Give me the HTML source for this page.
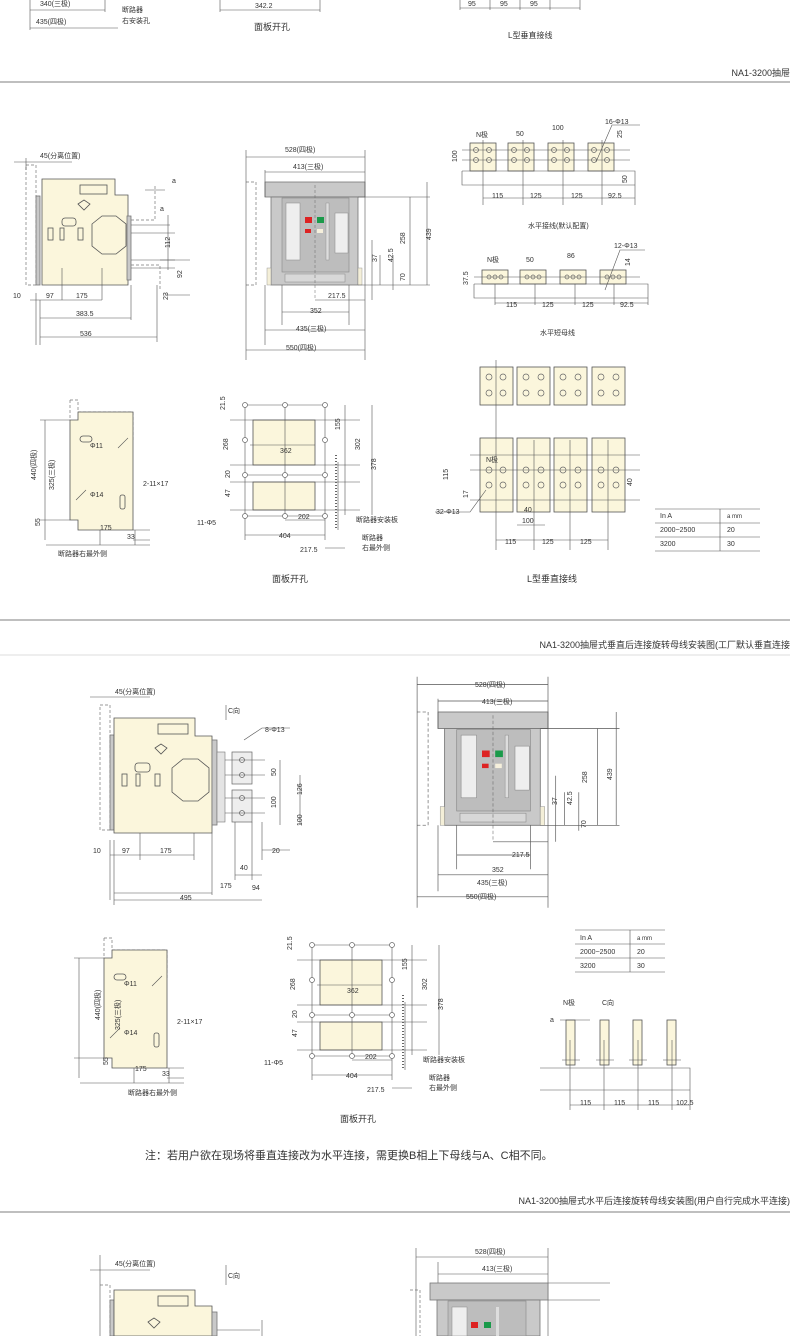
<!DOCTYPE html>
<html><head><meta charset="utf-8"><style>
html,body{margin:0;padding:0;background:#fff}
svg{display:block}
text{font-family:"Liberation Sans","Noto Sans CJK SC",sans-serif;fill:#333}
.d{stroke:#555;stroke-width:.6;fill:none}
.k{stroke:#444;stroke-width:.8;fill:none}
.b{fill:#fbf6dc;stroke:#555;stroke-width:.8}
.g{fill:#c9c9c9;stroke:#777;stroke-width:.8}
.s{font-size:7px}
.m{font-size:8px}
.t{font-size:9px}
.dash{stroke:#777;stroke-width:.7;fill:none;stroke-dasharray:3 2}
</style></head><body>
<svg width="790" height="1336" viewBox="0 0 790 1336" xmlns="http://www.w3.org/2000/svg">
<!-- top partial -->
<text x="40" y="6" class="s">340(三极)</text>
<text x="36" y="24" class="s">435(四极)</text>
<path class="d" d="M30 10H105M30 28H118M30 0V30M105 0V12"/>
<text x="122" y="12" class="s">断路器</text><text x="122" y="23" class="s">右安装孔</text>
<text x="255" y="8" class="s">342.2</text><path class="d" d="M220 10H320M220 0V12M320 0V12"/>
<text x="254" y="30" class="t">面板开孔</text>
<path class="d" d="M460 8H580M460 0V10M490 0V10M520 0V10M550 0V10M580 0V10"/>
<text x="468" y="6" class="s">95</text><text x="500" y="6" class="s">95</text><text x="530" y="6" class="s">95</text>
<text x="508" y="38" class="m">L型垂直接线</text>
<line x1="0" y1="82" x2="790" y2="82" stroke="#999" stroke-width="1.2"/>
<text x="790" y="76" class="t" text-anchor="end">NA1-3200抽屉</text>

<!-- SECTION 1 side view -->
<g id="side1">
<path class="dash" d="M26 165H36V285H26Z"/>
<rect x="36" y="196" width="4" height="89" class="g"/>
<path class="b" d="M42 179H115V195H128V285H42Z"/>
<rect x="80" y="185" width="27" height="9" class="b"/>
<path class="b" d="M78 204l6 -4l6 4l-6 6z"/>
<rect x="62" y="218" width="14" height="8" rx="3" class="b"/>
<rect x="48" y="228" width="5" height="12" class="b"/><rect x="60" y="228" width="4" height="12" class="b"/><rect x="78" y="228" width="5" height="12" class="b"/><rect x="98" y="228" width="5" height="12" class="b"/>
<path class="b" d="M92 224l10-8h14l10 8v22l-10 8h-14l-10-8z"/>
<rect x="127" y="216" width="4" height="64" class="g"/>
<path class="d" d="M131 225H170M131 260H175M131 233H175M131 268H175"/>
<path class="dash" d="M131 220H155V185M131 265H160V290"/>
<path class="d" d="M36 293V345M40 300V345M62 268V300M102 268V300M131 285V320M157 285V342M30 300H40M40 300H62M62 300H102M40 318H131M40 337H157M145 190H165M168 215V270M160 260H190M165 295H190"/>
</g>
<text x="40" y="158" class="s">45(分离位置)</text>
<path class="d" d="M14 162H72M26 158V170"/>
<text x="172" y="183" class="s">a</text><text x="160" y="211" class="s">a</text>
<text x="170" y="248" class="s" transform="rotate(-90 170 248)">112</text>
<text x="182" y="278" class="s" transform="rotate(-90 182 278)">92</text>
<text x="168" y="300" class="s" transform="rotate(-90 168 300)">23</text>
<text x="13" y="298" class="s">10</text><text x="46" y="298" class="s">97</text><text x="76" y="298" class="s">175</text>
<text x="76" y="316" class="s">383.5</text><text x="80" y="336" class="s">536</text>

<!-- SECTION 1 front view -->
<g id="front1">
<rect x="265" y="182" width="100" height="15" class="g"/>
<rect x="271" y="197" width="87" height="88" class="g"/>
<rect x="282" y="198" width="67" height="74" fill="#bdbdbd" stroke="#888" stroke-width=".6"/>
<rect x="286" y="203" width="14" height="57" fill="#eee" stroke="#888" stroke-width=".5"/>
<rect x="335" y="213" width="13" height="40" fill="#eee" stroke="#888" stroke-width=".5"/>
<rect x="326" y="203" width="3" height="57" fill="#ddd" stroke="#888" stroke-width=".4"/>
<rect x="305" y="217" width="7" height="6" fill="#d22"/><rect x="317" y="217" width="7" height="6" fill="#1a9a4a"/>
<rect x="305" y="229" width="6" height="4" fill="#d22"/><rect x="317" y="229" width="6" height="4" fill="#f6f0dc"/>
<rect x="285" y="274" width="60" height="8" fill="#d8d8d8" stroke="#888" stroke-width=".5"/>
<rect x="267" y="268" width="4" height="17" fill="#f4efd8" stroke="#888" stroke-width=".4"/>
<rect x="358" y="268" width="4" height="17" fill="#f4efd8" stroke="#888" stroke-width=".4"/>
<path class="dash" d="M246 182H256V285H246"/>
<line x1="315" y1="185" x2="315" y2="300" stroke="#666" stroke-width=".5" stroke-dasharray="3 2"/>
<path class="d" d="M246 150V360M365 150V360M265 170V197M265 285V345M282 285V325M349 285V325M246 157H365M265 172H365M358 197H430M358 285H430M365 197H410M410 197V285M427 182V285M380 255V285M393 255V290M315 300H365M282 312H349M265 330H365M246 350H365M372 240V300"/>
</g>
<text x="285" y="152" class="s">528(四极)</text><text x="293" y="169" class="s">413(三极)</text>
<text x="405" y="244" class="s" transform="rotate(-90 405 244)">258</text>
<text x="431" y="240" class="s" transform="rotate(-90 431 240)">439</text>
<text x="377" y="262" class="s" transform="rotate(-90 377 262)">37</text>
<text x="393" y="262" class="s" transform="rotate(-90 393 262)">42.5</text>
<text x="405" y="281" class="s" transform="rotate(-90 405 281)">70</text>
<text x="328" y="298" class="s">217.5</text><text x="310" y="313" class="s">352</text>
<text x="296" y="331" class="s">435(三极)</text><text x="286" y="350" class="s">550(四极)</text>

<!-- SECTION 1 horizontal busbars -->
<g id="hbus">
<rect x="470" y="143" width="26" height="28" class="b"/><rect x="508" y="143" width="26" height="28" class="b"/><rect x="548" y="143" width="26" height="28" class="b"/><rect x="588" y="143" width="26" height="28" class="b"/>
<path class="d" d="M462 150H630M462 160H630M462 171H635V185H462V171M483 140V205M523 140V205M563 140V205M602 140V205M635 185V205M483 198H635"/>
<g fill="none" stroke="#666" stroke-width=".7">
<circle cx="476" cy="150" r="2.5"/><circle cx="489" cy="150" r="2.5"/><circle cx="476" cy="160" r="2.5"/><circle cx="489" cy="160" r="2.5"/>
<circle cx="514" cy="150" r="2.5"/><circle cx="527" cy="150" r="2.5"/><circle cx="514" cy="160" r="2.5"/><circle cx="527" cy="160" r="2.5"/>
<circle cx="554" cy="150" r="2.5"/><circle cx="567" cy="150" r="2.5"/><circle cx="554" cy="160" r="2.5"/><circle cx="567" cy="160" r="2.5"/>
<circle cx="594" cy="150" r="2.5"/><circle cx="607" cy="150" r="2.5"/><circle cx="594" cy="160" r="2.5"/><circle cx="607" cy="160" r="2.5"/></g>
<path class="d" d="M596 162L612 125H640"/>
</g>
<text x="476" y="137" class="s">N极</text><text x="516" y="136" class="s">50</text><text x="552" y="130" class="s">100</text><text x="605" y="124" class="s">16-Φ13</text>
<text x="457" y="162" class="s" transform="rotate(-90 457 162)">100</text>
<text x="622" y="138" class="s" transform="rotate(-90 622 138)">25</text>
<text x="627" y="183" class="s" transform="rotate(-90 627 183)">50</text>
<text x="492" y="198" class="s">115</text><text x="530" y="198" class="s">125</text><text x="571" y="198" class="s">125</text><text x="608" y="198" class="s">92.5</text>
<text x="528" y="228" class="s">水平接线(默认配置)</text>

<g>
<rect x="482" y="270" width="26" height="14" class="b"/><rect x="520" y="270" width="26" height="14" class="b"/><rect x="560" y="270" width="26" height="14" class="b"/><rect x="600" y="270" width="26" height="14" class="b"/>
<path class="d" d="M474 277H640M474 284H648V298H474V284M495 284V305M535 284V305M575 284V305M614 284V305M648 298V305M495 303H648"/>
<g fill="none" stroke="#666" stroke-width=".7"><circle cx="489" cy="277" r="2"/><circle cx="495" cy="277" r="2"/><circle cx="501" cy="277" r="2"/><circle cx="527" cy="277" r="2"/><circle cx="533" cy="277" r="2"/><circle cx="539" cy="277" r="2"/><circle cx="567" cy="277" r="2"/><circle cx="573" cy="277" r="2"/><circle cx="579" cy="277" r="2"/><circle cx="607" cy="277" r="2"/><circle cx="613" cy="277" r="2"/><circle cx="619" cy="277" r="2"/></g>
<path class="d" d="M605 290L620 250H645"/>
</g>
<text x="487" y="262" class="s">N极</text><text x="526" y="262" class="s">50</text><text x="567" y="258" class="s">86</text><text x="614" y="248" class="s">12-Φ13</text>
<text x="468" y="285" class="s" transform="rotate(-90 468 285)">37.5</text>
<text x="630" y="266" class="s" transform="rotate(-90 630 266)">14</text>
<text x="506" y="307" class="s">115</text><text x="542" y="307" class="s">125</text><text x="582" y="307" class="s">125</text><text x="620" y="307" class="s">92.5</text>
<text x="540" y="335" class="s">水平短母线</text>

<!-- SECTION 1 small side -->
<g id="sm1">
<path class="dash" d="M70 400H78V412H133V440M70 400V420"/>
<path class="b" d="M70 420H78V412H133V530H78V520H70Z" style="fill:#fbf6dc"/>
<rect x="80" y="436" width="12" height="6" rx="3" class="b"/>
<rect x="120" y="495" width="5" height="14" rx="2" class="b"/>
<path class="d" d="M118 448l10-10M76 500l10-10M133 530H150M133 540H150M100 530V545M135 530V545M46 545H150M40 420H70M40 520H70M45 420V540"/>
</g>
<text x="90" y="448" class="s">Φ11</text><text x="90" y="497" class="s">Φ14</text><text x="143" y="486" class="s">2-11×17</text>
<text x="36" y="480" class="s" transform="rotate(-90 36 480)">440(四极)</text>
<text x="54" y="490" class="s" transform="rotate(-90 54 490)">325(三极)</text>
<text x="40" y="526" class="s" transform="rotate(-90 40 526)">55</text>
<text x="100" y="530" class="s">175</text><text x="127" y="539" class="s">33</text>
<text x="58" y="556" class="s">断路器右最外侧</text>

<!-- SECTION 1 panel cutout -->
<g id="pc1">
<rect x="253" y="420" width="62" height="45" class="b"/>
<rect x="253" y="482" width="62" height="28" class="b"/>
<path class="d" d="M245 405H325M245 475H325M245 516H325M245 405V516M325 405V516M285 405V516M245 410V540M325 470V540M230 420H360M230 465H360M230 482H360M230 510H360M345 405V515M372 405V515M338 462V530"/>
<g fill="#fff" stroke="#666" stroke-width=".7"><circle cx="245" cy="405" r="2.5"/><circle cx="285" cy="405" r="2.5"/><circle cx="325" cy="405" r="2.5"/><circle cx="245" cy="440" r="2.5"/><circle cx="325" cy="440" r="2.5"/><circle cx="245" cy="475" r="2.5"/><circle cx="285" cy="475" r="2.5"/><circle cx="325" cy="475" r="2.5"/><circle cx="245" cy="516" r="2.5"/><circle cx="285" cy="516" r="2.5"/><circle cx="325" cy="516" r="2.5"/></g>
<path d="M336 455V530" stroke="#666" stroke-width="2" stroke-dasharray="1 2"/>
<path class="d" d="M250 445H315M285 520H325M245 535H325M325 548H345"/>
</g>
<text x="225" y="410" class="s" transform="rotate(-90 225 410)">21.5</text>
<text x="228" y="450" class="s" transform="rotate(-90 228 450)">268</text>
<text x="230" y="478" class="s" transform="rotate(-90 230 478)">20</text>
<text x="230" y="497" class="s" transform="rotate(-90 230 497)">47</text>
<text x="340" y="430" class="s" transform="rotate(-90 340 430)">155</text>
<text x="360" y="450" class="s" transform="rotate(-90 360 450)">302</text>
<text x="376" y="470" class="s" transform="rotate(-90 376 470)">378</text>
<text x="280" y="453" class="s">362</text><text x="298" y="519" class="s">202</text>
<text x="279" y="538" class="s">404</text><text x="300" y="552" class="s">217.5</text>
<text x="197" y="525" class="s">11-Φ5</text>
<text x="356" y="522" class="s">断路器安装板</text><text x="362" y="540" class="s">断路器</text><text x="362" y="550" class="s">右最外侧</text>
<text x="272" y="582" class="t">面板开孔</text>

<!-- SECTION 1 L-type -->
<g>
<rect x="480" y="367" width="33" height="38" class="b"/><rect x="517" y="367" width="33" height="38" class="b"/><rect x="554" y="367" width="33" height="38" class="b"/><rect x="592" y="367" width="33" height="38" class="b"/>
<rect x="480" y="438" width="33" height="74" class="b"/><rect x="517" y="438" width="33" height="74" class="b"/><rect x="554" y="438" width="33" height="74" class="b"/><rect x="592" y="438" width="33" height="74" class="b"/>
<path class="d" d="M470 455H640M470 470H640M470 500H640M496 360V550M534 440V550M570 440V550M608 440V550M496 540H608M517 525H545"/>
<g fill="none" stroke="#666" stroke-width=".7">
<circle cx="489" cy="377" r="3"/><circle cx="503" cy="377" r="3"/><circle cx="489" cy="393" r="3"/><circle cx="503" cy="393" r="3"/>
<circle cx="526" cy="377" r="3"/><circle cx="541" cy="377" r="3"/><circle cx="526" cy="393" r="3"/><circle cx="541" cy="393" r="3"/>
<circle cx="563" cy="377" r="3"/><circle cx="578" cy="377" r="3"/><circle cx="563" cy="393" r="3"/><circle cx="578" cy="393" r="3"/>
<circle cx="601" cy="377" r="3"/><circle cx="616" cy="377" r="3"/><circle cx="601" cy="393" r="3"/><circle cx="616" cy="393" r="3"/>
<circle cx="489" cy="470" r="3"/><circle cx="503" cy="470" r="3"/><circle cx="489" cy="485" r="3"/><circle cx="503" cy="485" r="3"/>
<circle cx="526" cy="470" r="3"/><circle cx="541" cy="470" r="3"/><circle cx="526" cy="485" r="3"/><circle cx="541" cy="485" r="3"/>
<circle cx="563" cy="470" r="3"/><circle cx="578" cy="470" r="3"/><circle cx="563" cy="485" r="3"/><circle cx="578" cy="485" r="3"/>
<circle cx="601" cy="470" r="3"/><circle cx="616" cy="470" r="3"/><circle cx="601" cy="485" r="3"/><circle cx="616" cy="485" r="3"/></g>
<path class="d" d="M486 490L470 512H435"/>
</g>
<text x="486" y="462" class="s">N极</text><text x="448" y="480" class="s" transform="rotate(-90 448 480)">115</text>
<text x="468" y="498" class="s" transform="rotate(-90 468 498)">17</text>
<text x="632" y="486" class="s" transform="rotate(-90 632 486)">40</text>
<text x="436" y="514" class="s">32-Φ13</text><text x="524" y="512" class="s">40</text><text x="522" y="523" class="s">100</text>
<text x="505" y="544" class="s">115</text><text x="542" y="544" class="s">125</text><text x="580" y="544" class="s">125</text>
<text x="527" y="582" class="t">L型垂直接线</text>
<path class="d" d="M655 509H760M655 523H760M655 537H760M655 551H760M720 509V551"/>
<text x="660" y="518" class="s">In A</text><text x="727" y="518" class="s" style="font-size:6px">a mm</text>
<text x="660" y="532" class="s">2000~2500</text><text x="727" y="532" class="s">20</text>
<text x="660" y="546" class="s">3200</text><text x="727" y="546" class="s">30</text>

<!-- SECTION 2 header -->
<line x1="0" y1="620" x2="790" y2="620" stroke="#999" stroke-width="1.2"/>
<text x="790" y="648" class="t" text-anchor="end">NA1-3200抽屉式垂直后连接旋转母线安装图(工厂默认垂直连接</text>
<line x1="0" y1="655" x2="790" y2="655" stroke="#bbb" stroke-width=".6"/>

<!-- SECTION 2 side -->
<path class="dash" d="M100 705H110V830H100Z"/>
<rect x="110" y="735" width="4" height="95" class="g"/>
<path class="b" d="M114 718H195V736H212V833H114Z"/>
<rect x="158" y="724" width="30" height="10" class="b"/>
<path class="b" d="M155 748l6-4l6 4l-6 6z"/>
<rect x="135" y="763" width="15" height="9" rx="3" class="b"/>
<rect x="122" y="774" width="5" height="12" class="b"/><rect x="136" y="774" width="4" height="12" class="b"/><rect x="155" y="774" width="5" height="12" class="b"/><rect x="178" y="774" width="5" height="12" class="b"/>
<path class="b" d="M172 768l11-9h15l11 9v24l-11 9h-15l-11-9z"/>
<rect x="212" y="740" width="5" height="85" class="g"/>
<rect x="217" y="752" width="8" height="70" fill="#e4e4e4" stroke="#777" stroke-width=".6"/>
<rect x="232" y="752" width="20" height="32" fill="#eee" stroke="#666" stroke-width=".7"/>
<rect x="232" y="790" width="20" height="32" fill="#eee" stroke="#666" stroke-width=".7"/>
<g fill="none" stroke="#666" stroke-width=".7"><circle cx="242" cy="760" r="2.5"/><circle cx="242" cy="775" r="2.5"/><circle cx="242" cy="798" r="2.5"/><circle cx="242" cy="813" r="2.5"/></g>
<path class="d" d="M225 760H265M225 775H265M225 798H265M225 813H265M235 822V880M252 822V880M262 822V860M235 875H262M110 840V900M114 840V905M140 833V860M194 833V860M212 833V895M262 850H290M226 705V720M244 740L262 728H290M280 760V825M300 775V825M110 855H194M114 893H212M114 900H262"/>
<text x="115" y="694" class="s">45(分离位置)</text><path class="d" d="M90 697H150"/>
<text x="228" y="713" class="s">C向</text><text x="265" y="732" class="s">8-Φ13</text>
<text x="276" y="776" class="s" transform="rotate(-90 276 776)">50</text>
<text x="276" y="808" class="s" transform="rotate(-90 276 808)">100</text>
<text x="302" y="795" class="s" transform="rotate(-90 302 795)">126</text>
<text x="302" y="826" class="s" transform="rotate(-90 302 826)">100</text>
<text x="93" y="853" class="s">10</text><text x="122" y="853" class="s">97</text><text x="160" y="853" class="s">175</text>
<text x="272" y="853" class="s">20</text><text x="240" y="870" class="s">40</text><text x="220" y="888" class="s">175</text><text x="252" y="890" class="s">94</text>
<text x="180" y="900" class="s">495</text>

<!-- SECTION 2 front -->
<g transform="translate(438 712) scale(1.1) translate(-265 -182)">
<rect x="265" y="182" width="100" height="15" class="g"/>
<rect x="271" y="197" width="87" height="88" class="g"/>
<rect x="282" y="198" width="67" height="74" fill="#bdbdbd" stroke="#888" stroke-width=".6"/>
<rect x="286" y="203" width="14" height="57" fill="#eee" stroke="#888" stroke-width=".5"/>
<rect x="335" y="213" width="13" height="40" fill="#eee" stroke="#888" stroke-width=".5"/>
<rect x="326" y="203" width="3" height="57" fill="#ddd" stroke="#888" stroke-width=".4"/>
<rect x="305" y="217" width="7" height="6" fill="#d22"/><rect x="317" y="217" width="7" height="6" fill="#1a9a4a"/>
<rect x="305" y="229" width="6" height="4" fill="#d22"/><rect x="317" y="229" width="6" height="4" fill="#f6f0dc"/>
<rect x="285" y="274" width="60" height="8" fill="#d8d8d8" stroke="#888" stroke-width=".5"/>
<rect x="267" y="268" width="4" height="17" fill="#f4efd8" stroke="#888" stroke-width=".4"/>
<rect x="358" y="268" width="4" height="17" fill="#f4efd8" stroke="#888" stroke-width=".4"/>
<path class="dash" d="M246 182H256V285H246"/>
<line x1="315" y1="185" x2="315" y2="300" stroke="#666" stroke-width=".5" stroke-dasharray="3 2"/>
<path class="d" d="M246 150V360M365 150V360M265 170V197M265 285V345M282 285V325M349 285V325M246 157H365M265 172H365M358 197H430M358 285H430M365 197H410M410 197V285M427 182V285M380 255V285M393 255V290M315 300H365M282 312H349M265 330H365M246 350H365M372 240V300"/>
</g>
<text x="475" y="687" class="s">528(四极)</text><text x="482" y="704" class="s">413(三极)</text>
<text x="587" y="783" class="s" transform="rotate(-90 587 783)">258</text>
<text x="612" y="780" class="s" transform="rotate(-90 612 780)">439</text>
<text x="557" y="805" class="s" transform="rotate(-90 557 805)">37</text>
<text x="572" y="805" class="s" transform="rotate(-90 572 805)">42.5</text>
<text x="586" y="828" class="s" transform="rotate(-90 586 828)">70</text>
<text x="512" y="857" class="s">217.5</text><text x="492" y="872" class="s">352</text>
<text x="477" y="885" class="s">435(三极)</text><text x="466" y="899" class="s">550(四极)</text>

<!-- SECTION 2 small side -->
<g transform="translate(34 538)">
<path class="dash" d="M70 400H78V412H133V440M70 400V420"/>
<path class="b" d="M70 420H78V412H133V530H78V520H70Z"/>
<rect x="80" y="436" width="12" height="6" rx="3" class="b"/>
<rect x="120" y="495" width="5" height="14" rx="2" class="b"/>
<path class="d" d="M118 448l10-10M76 500l10-10M133 530H150M133 540H150M100 530V545M135 530V545M46 545H150M40 420H70M40 520H70M45 420V540"/>
</g>
<text x="124" y="986" class="s">Φ11</text><text x="124" y="1035" class="s">Φ14</text><text x="177" y="1024" class="s">2-11×17</text>
<text x="100" y="1020" class="s" transform="rotate(-90 100 1020)">440(四极)</text>
<text x="120" y="1030" class="s" transform="rotate(-90 120 1030)">325(三极)</text>
<text x="108" y="1065" class="s" transform="rotate(-90 108 1065)">55</text>
<text x="135" y="1071" class="s">175</text><text x="162" y="1076" class="s">33</text>
<text x="128" y="1095" class="s">断路器右最外侧</text>

<!-- SECTION 2 panel cutout -->
<g transform="translate(67 540)">
<rect x="253" y="420" width="62" height="45" class="b"/>
<rect x="253" y="482" width="62" height="28" class="b"/>
<path class="d" d="M245 405H325M245 475H325M245 516H325M245 405V516M325 405V516M285 405V516M245 410V540M325 470V540M230 420H360M230 465H360M230 482H360M230 510H360M345 405V515M372 405V515M338 462V530"/>
<g fill="#fff" stroke="#666" stroke-width=".7"><circle cx="245" cy="405" r="2.5"/><circle cx="285" cy="405" r="2.5"/><circle cx="325" cy="405" r="2.5"/><circle cx="245" cy="440" r="2.5"/><circle cx="325" cy="440" r="2.5"/><circle cx="245" cy="475" r="2.5"/><circle cx="285" cy="475" r="2.5"/><circle cx="325" cy="475" r="2.5"/><circle cx="245" cy="516" r="2.5"/><circle cx="285" cy="516" r="2.5"/><circle cx="325" cy="516" r="2.5"/></g>
<path d="M336 455V530" stroke="#666" stroke-width="2" stroke-dasharray="1 2"/>
<path class="d" d="M250 445H315M285 520H325M245 535H325M325 548H345"/>
</g>
<text x="292" y="950" class="s" transform="rotate(-90 292 950)">21.5</text>
<text x="295" y="990" class="s" transform="rotate(-90 295 990)">268</text>
<text x="297" y="1018" class="s" transform="rotate(-90 297 1018)">20</text>
<text x="297" y="1037" class="s" transform="rotate(-90 297 1037)">47</text>
<text x="407" y="970" class="s" transform="rotate(-90 407 970)">155</text>
<text x="427" y="990" class="s" transform="rotate(-90 427 990)">302</text>
<text x="443" y="1010" class="s" transform="rotate(-90 443 1010)">378</text>
<text x="347" y="993" class="s">362</text><text x="365" y="1059" class="s">202</text>
<text x="346" y="1078" class="s">404</text><text x="367" y="1092" class="s">217.5</text>
<text x="264" y="1065" class="s">11-Φ5</text>
<text x="423" y="1062" class="s">断路器安装板</text><text x="429" y="1080" class="s">断路器</text><text x="429" y="1090" class="s">右最外侧</text>
<text x="340" y="1122" class="t">面板开孔</text>

<!-- SECTION 2 table and vertical bus -->
<path class="d" d="M575 930H665M575 944H665M575 958H665M575 972H665M630 930V972"/>
<text x="580" y="940" class="s">In A</text><text x="637" y="940" class="s" style="font-size:6px">a mm</text>
<text x="580" y="954" class="s">2000~2500</text><text x="637" y="954" class="s">20</text>
<text x="580" y="968" class="s">3200</text><text x="637" y="968" class="s">30</text>
<text x="563" y="1005" class="s">N极</text><text x="602" y="1005" class="s">C向</text>
<g>
<rect x="566" y="1020" width="9" height="45" class="b"/><rect x="600" y="1020" width="9" height="45" class="b"/><rect x="633" y="1020" width="9" height="45" class="b"/><rect x="667" y="1020" width="9" height="45" class="b"/>
<path class="d" d="M540 1068H690V1090H540M562 1060H580M596 1060H614M629 1060H647M663 1060H681M570 1040V1110M604 1040V1110M638 1040V1110M672 1040V1110M690 1090V1110M570 1105H690M560 1020H590"/>
</g>
<text x="550" y="1022" class="s">a</text>
<text x="580" y="1105" class="s">115</text><text x="614" y="1105" class="s">115</text><text x="648" y="1105" class="s">115</text><text x="676" y="1105" class="s">102.5</text>

<text x="145" y="1159" style="font-size:11px">注：若用户欲在现场将垂直连接改为水平连接，需更换B相上下母线与A、C相不同。</text>

<!-- SECTION 3 -->
<text x="790" y="1204" class="t" text-anchor="end">NA1-3200抽屉式水平后连接旋转母线安装图(用户自行完成水平连接)</text>
<line x1="0" y1="1212" x2="790" y2="1212" stroke="#999" stroke-width="1.2"/>
<text x="115" y="1266" class="s">45(分离位置)</text><path class="d" d="M90 1270H150M100 1255V1336"/>
<path class="dash" d="M100 1285H110V1336"/>
<rect x="110" y="1300" width="4" height="36" class="g"/>
<path class="b" d="M114 1290H195V1306H212V1336H114Z"/>
<rect x="158" y="1296" width="30" height="10" class="b"/>
<path class="b" d="M148 1322l6-4l6 4l-6 6z"/>
<rect x="212" y="1312" width="5" height="24" class="g"/>
<path class="d" d="M217 1330H260M226 1265V1285M262 1320V1336"/>
<text x="228" y="1278" class="s">C向</text>
<text x="475" y="1254" class="s">528(四极)</text><text x="482" y="1271" class="s">413(三极)</text>
<path class="d" d="M416 1248V1336M548 1248V1336M438 1262V1290M416 1257H548M438 1274H548"/>
<path class="dash" d="M410 1290H420V1336"/>
<rect x="430" y="1283" width="118" height="17" class="g"/>
<rect x="437" y="1300" width="103" height="36" class="g"/>
<rect x="448" y="1301" width="78" height="35" fill="#bdbdbd" stroke="#888" stroke-width=".6"/>
<rect x="452" y="1307" width="15" height="29" fill="#eee" stroke="#888" stroke-width=".5"/>
<rect x="471" y="1322" width="7" height="6" fill="#d22"/><rect x="484" y="1322" width="7" height="6" fill="#1a9a4a"/>
<rect x="496" y="1307" width="3" height="29" fill="#ddd"/>
<path class="d" d="M548 1300H600M548 1283H610"/>
</svg>
</body></html>
